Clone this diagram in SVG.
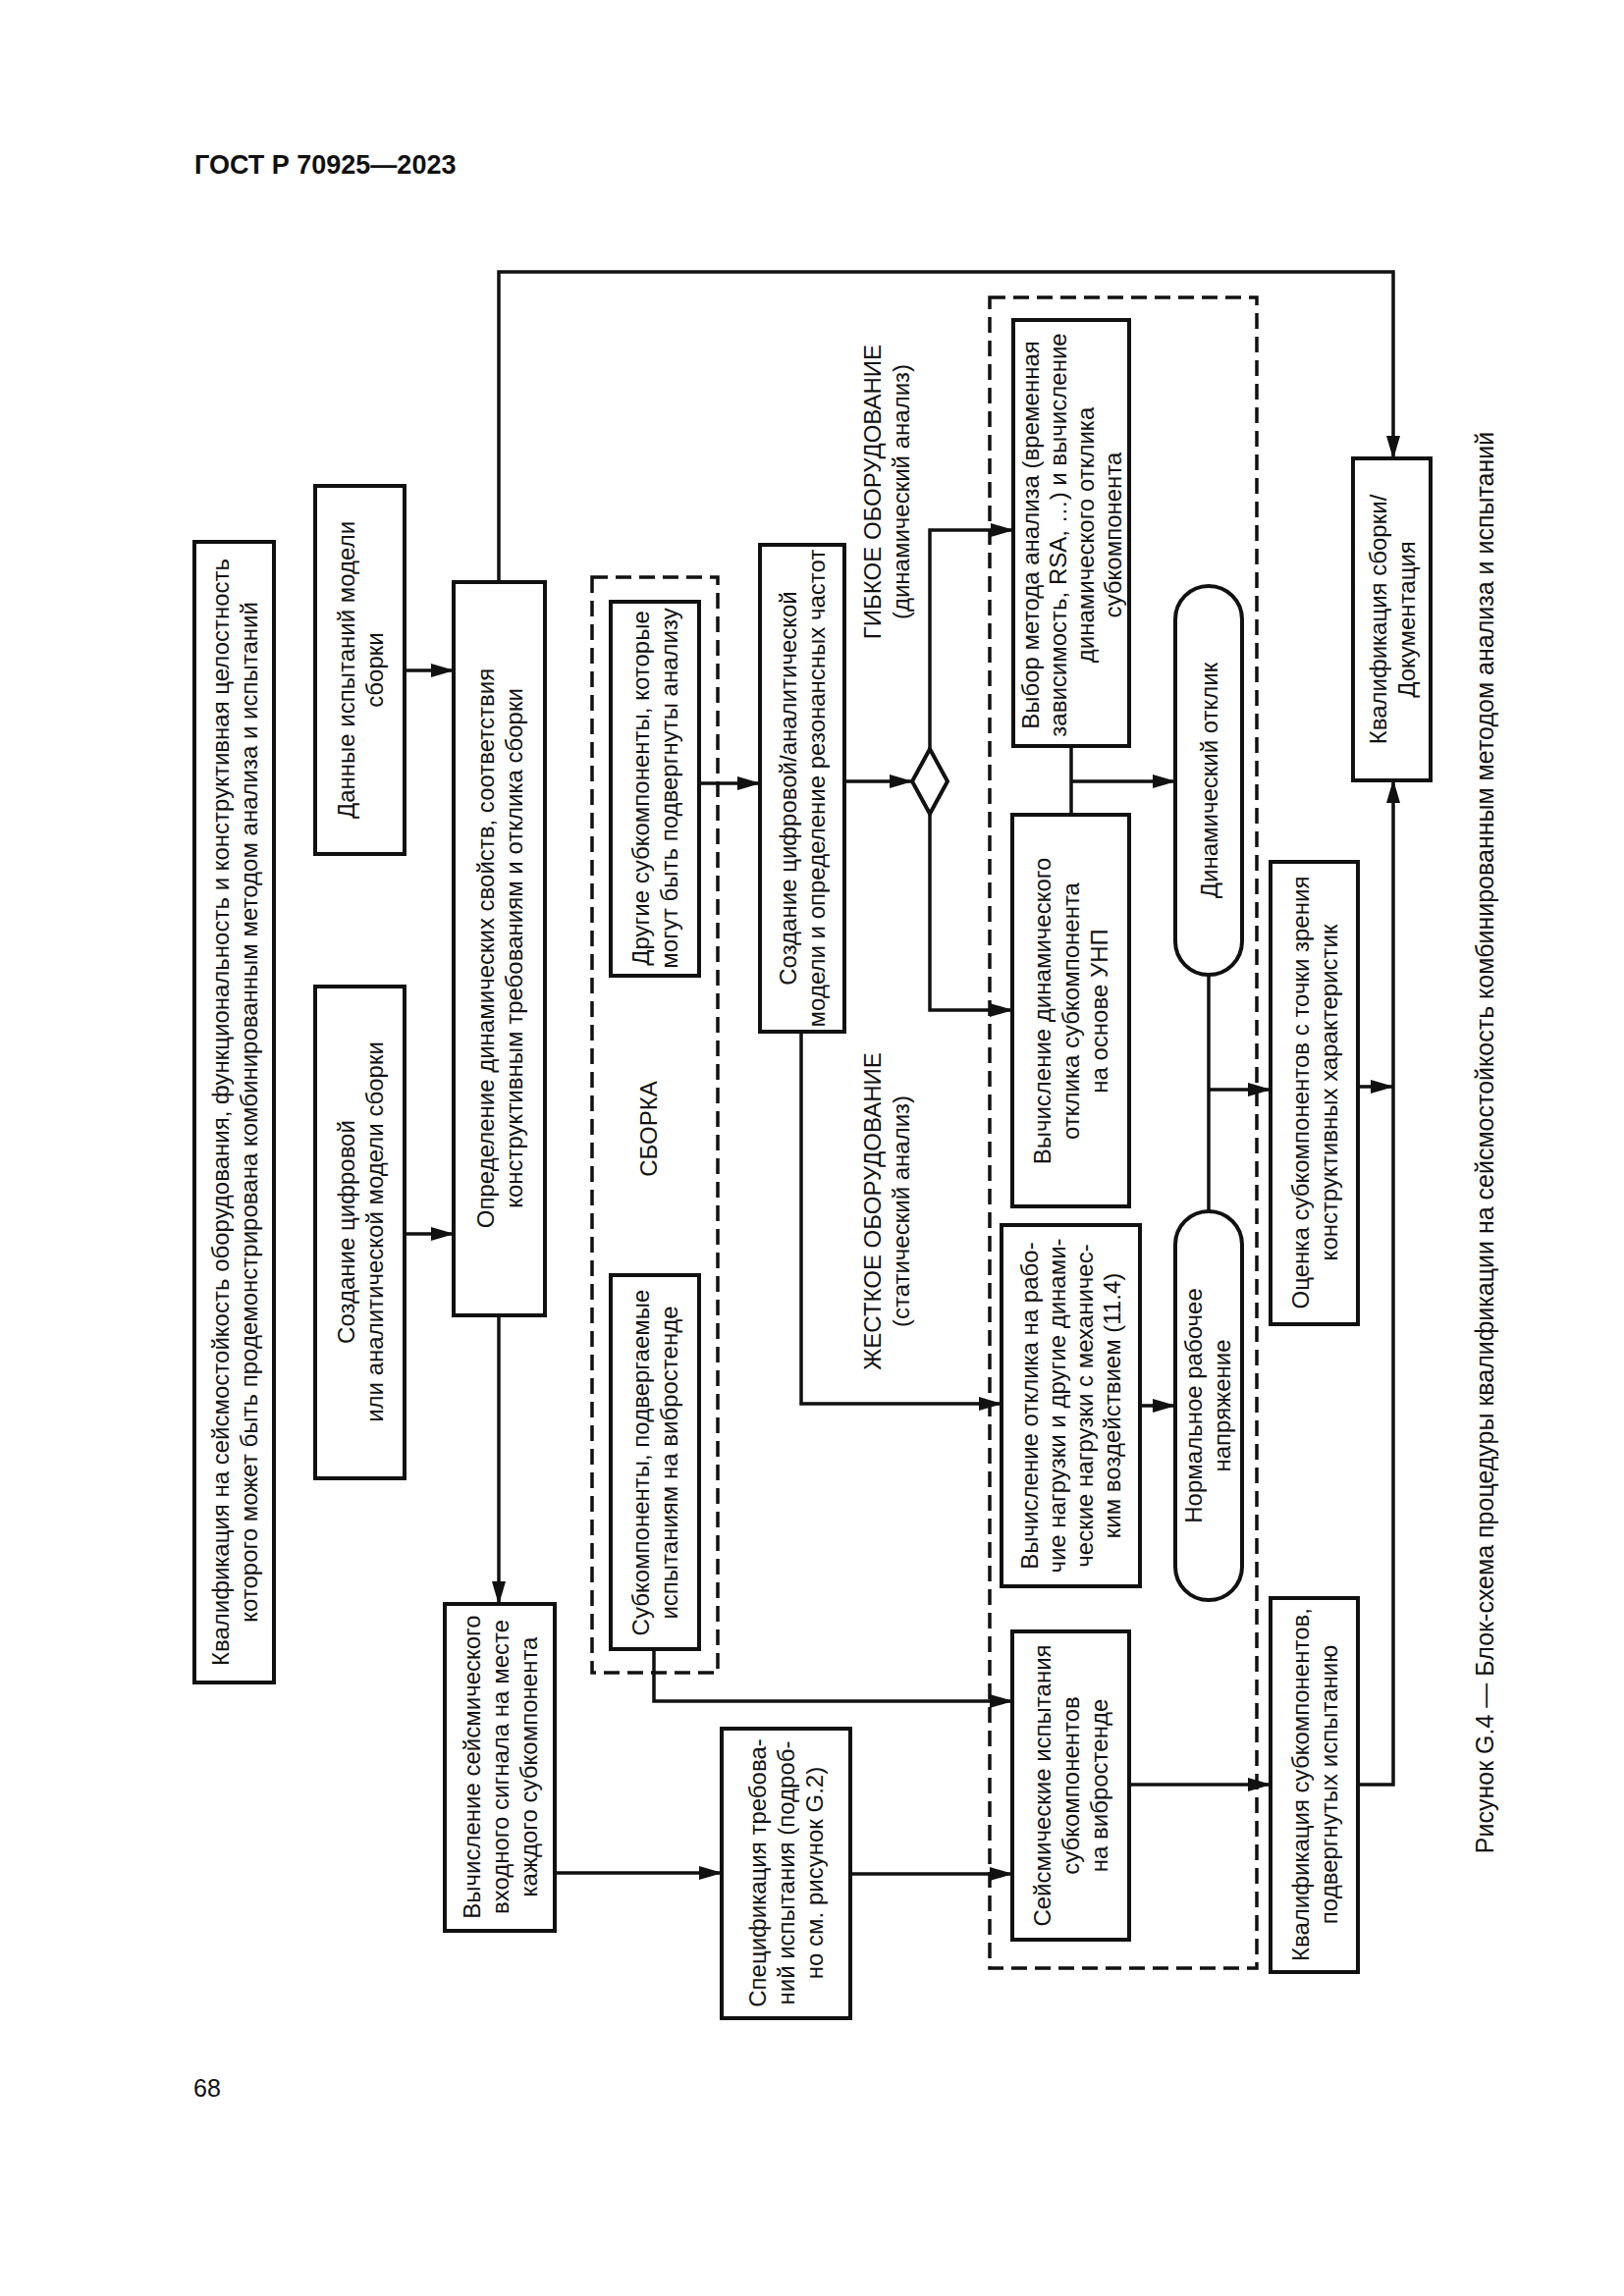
<svg xmlns="http://www.w3.org/2000/svg" width="1654" height="2339" viewBox="0 0 1654 2339">
<defs>
<style>
.bx{fill:#fff;stroke:#111;stroke-width:4}
.ds{fill:none;stroke:#111;stroke-width:3.5;stroke-dasharray:16 8}
.ln{fill:none;stroke:#111;stroke-width:3.5}
.ar{fill:none;stroke:#111;stroke-width:3.5;marker-end:url(#ah)}
.t{font-family:"Liberation Sans",Arial,sans-serif;font-size:24px;fill:#111;text-anchor:middle}
.cap{font-family:"Liberation Sans",Arial,sans-serif;font-size:25px;fill:#111;text-anchor:middle}
</style>
<marker id="ah" markerUnits="userSpaceOnUse" markerWidth="24" markerHeight="14" refX="23" refY="7" orient="auto">
<path d="M0,0 L24,7 L0,14 z" fill="#111"/>
</marker>
</defs>
<rect width="1654" height="2339" fill="#fff"/>
<text x="198" y="177" style="font-family:'Liberation Sans',Arial,sans-serif;font-size:27px;font-weight:bold;fill:#111">ГОСТ Р 70925—2023</text>
<text x="197" y="2136" style="font-family:'Liberation Sans',Arial,sans-serif;font-size:25px;fill:#111">68</text>
<text class="cap" transform="translate(1512 1164) rotate(-90)" x="0" y="9">Рисунок G.4 — Блок-схема процедуры квалификации на сейсмостойкость комбинированным методом анализа и испытаний</text>

<g id="group_sborka">
<rect class="ds" x="603" y="588" width="128" height="1116"/>
<text class="t" transform="translate(660 1150) rotate(-90)" x="0" y="8.5">СБОРКА</text>
</g>
<g id="group_equipment">
<rect class="ds" x="1008" y="303" width="272" height="1702"/>
</g>
<g id="label_gibkoe">
<text class="t" transform="translate(903 501) rotate(-90)"><tspan x="0" y="-6">ГИБКОЕ ОБОРУДОВАНИЕ</tspan><tspan x="0" y="23">(динамический анализ)</tspan></text>
</g>
<g id="label_zhestkoe">
<text class="t" transform="translate(903 1234) rotate(-90)"><tspan x="0" y="-6">ЖЕСТКОЕ ОБОРУДОВАНИЕ</tspan><tspan x="0" y="23">(статический анализ)</tspan></text>
</g>

<g id="connectors">
<path class="ar" d="M412,683 H462"/>
<path class="ar" d="M412,1257 H462"/>
<path class="ar" d="M508,593 V277 H1419 V467"/>
<path class="ar" d="M508,1340 V1634"/>
<path class="ar" d="M712,798 H774"/>
<path class="ar" d="M666,1680 V1733 H1031"/>
<path class="ar" d="M565,1908 H735"/>
<path class="ar" d="M866,1909 H1031"/>
<path class="ar" d="M860,796 H929"/>
<path class="ar" d="M947,763 V540 H1032"/>
<path class="ar" d="M947,829 V1029 H1031"/>
<path class="ar" d="M816,1051 V1430 H1020"/>
<path class="ln" d="M1091,760 V830"/>
<path class="ar" d="M1091,796 H1197"/>
<path class="ar" d="M1161,1432 H1197"/>
<path class="ln" d="M1231,993 V1234"/>
<path class="ar" d="M1231,1110 H1294"/>
<path class="ar" d="M1383,1107 H1419"/>
<path class="ar" d="M1150,1818 H1294"/>
<path class="ar" d="M1383,1818 H1419 V795"/>
</g>

<g id="n_qual_top">
<rect class="bx" x="198" y="552" width="81" height="1162"/>
<text class="t" transform="translate(238.5 1133) rotate(-90)"><tspan x="0" y="-6">Квалификация на сейсмостойкость оборудования, функциональность и конструктивная целостность</tspan><tspan x="0" y="23">которого может быть продемонстрирована комбинированным методом анализа и испытаний</tspan></text>
</g>
<g id="n_dannye">
<rect class="bx" x="321" y="495" width="91" height="375"/>
<text class="t" transform="translate(366.5 682.5) rotate(-90)"><tspan x="0" y="-6">Данные испытаний модели</tspan><tspan x="0" y="23">сборки</tspan></text>
</g>
<g id="n_sozdanie">
<rect class="bx" x="321" y="1005" width="91" height="501"/>
<text class="t" transform="translate(366.5 1255) rotate(-90)"><tspan x="0" y="-6">Создание цифровой</tspan><tspan x="0" y="23">или аналитической модели сборки</tspan></text>
</g>
<g id="n_opredelenie">
<rect class="bx" x="462" y="593" width="93" height="747"/>
<text class="t" transform="translate(508.5 966) rotate(-90)"><tspan x="0" y="-6">Определение динамических свойств, соответствия</tspan><tspan x="0" y="23">конструктивным требованиям и отклика сборки</tspan></text>
</g>
<g id="n_drugie">
<rect class="bx" x="622" y="613" width="90" height="381"/>
<text class="t" transform="translate(667 803) rotate(-90)"><tspan x="0" y="-6">Другие субкомпоненты, которые</tspan><tspan x="0" y="23">могут быть подвергнуты анализу</tspan></text>
</g>
<g id="n_subkomp">
<rect class="bx" x="622" y="1299" width="90" height="381"/>
<text class="t" transform="translate(667 1490) rotate(-90)"><tspan x="0" y="-6">Субкомпоненты, подвергаемые</tspan><tspan x="0" y="23">испытаниям на вибростенде</tspan></text>
</g>
<g id="n_vych_seism">
<rect class="bx" x="453" y="1634" width="112" height="333"/>
<text class="t" transform="translate(509 1800) rotate(-90)"><tspan x="0" y="-20.5">Вычисление сейсмического</tspan><tspan x="0" y="8.5">входного сигнала на месте</tspan><tspan x="0" y="37.5">каждого субкомпонента</tspan></text>
</g>
<g id="n_spec">
<rect class="bx" x="735" y="1761" width="131" height="295"/>
<text class="t" transform="translate(800.5 1908) rotate(-90)"><tspan x="0" y="-20.5">Спецификация требова-</tspan><tspan x="0" y="8.5">ний испытания (подроб-</tspan><tspan x="0" y="37.5">но см. рисунок G.2)</tspan></text>
</g>
<g id="n_sozd_model">
<rect class="bx" x="774" y="555" width="86" height="496"/>
<text class="t" transform="translate(817 803) rotate(-90)"><tspan x="0" y="-6">Создание цифровой/аналитической</tspan><tspan x="0" y="23">модели и определение резонансных частот</tspan></text>
</g>
<g id="n_decision">
<polygon class="bx" points="947,763 965,796 947,829 929,796"/>
</g>
<g id="n_vybor">
<rect class="bx" x="1032" y="326" width="118" height="434"/>
<text class="t" transform="translate(1091 545) rotate(-90)"><tspan x="0" y="-33.5">Выбор метода анализа (временная</tspan><tspan x="0" y="-5.5">зависимость, RSA, …) и вычисление</tspan><tspan x="0" y="22.5">динамического отклика</tspan><tspan x="0" y="50.5">субкомпонента</tspan></text>
</g>
<g id="n_vych_din">
<rect class="bx" x="1031" y="830" width="119" height="399"/>
<text class="t" transform="translate(1090 1030) rotate(-90)"><tspan x="0" y="-20.5">Вычисление динамического</tspan><tspan x="0" y="8.5">отклика субкомпонента</tspan><tspan x="0" y="37.5">на основе УНП</tspan></text>
</g>
<g id="n_vych_otkl">
<rect class="bx" x="1020" y="1248" width="141" height="368"/>
<text class="t" transform="translate(1090 1432) rotate(-90)"><tspan x="0" y="-33.5">Вычисление отклика на рабо-</tspan><tspan x="0" y="-5.5">чие нагрузки и другие динами-</tspan><tspan x="0" y="22.5">ческие нагрузки с механичес-</tspan><tspan x="0" y="50.5">ким воздействием (11.4)</tspan></text>
</g>
<g id="n_seism_isp">
<rect class="bx" x="1031" y="1662" width="119" height="314"/>
<text class="t" transform="translate(1090 1819) rotate(-90)"><tspan x="0" y="-20.5">Сейсмические испытания</tspan><tspan x="0" y="8.5">субкомпонентов</tspan><tspan x="0" y="37.5">на вибростенде</tspan></text>
</g>
<g id="n_din_otklik">
<rect class="bx" x="1197" y="597" width="68" height="396" rx="34" ry="34"/>
<text class="t" transform="translate(1231 795) rotate(-90)" x="0" y="8.5">Динамический отклик</text>
</g>
<g id="n_normal">
<rect class="bx" x="1197" y="1234" width="68" height="396" rx="34" ry="34"/>
<text class="t" transform="translate(1230 1432) rotate(-90)"><tspan x="0" y="-6">Нормальное рабочее</tspan><tspan x="0" y="23">напряжение</tspan></text>
</g>
<g id="n_ocenka">
<rect class="bx" x="1294" y="878" width="89" height="471"/>
<text class="t" transform="translate(1338.5 1113) rotate(-90)"><tspan x="0" y="-6">Оценка субкомпонентов с точки зрения</tspan><tspan x="0" y="23">конструктивных характеристик</tspan></text>
</g>
<g id="n_qual_sub">
<rect class="bx" x="1294" y="1628" width="89" height="381"/>
<text class="t" transform="translate(1338.5 1818) rotate(-90)"><tspan x="0" y="-6">Квалификация субкомпонентов,</tspan><tspan x="0" y="23">подвергнутых испытанию</tspan></text>
</g>
<g id="n_qual_sb">
<rect class="bx" x="1378" y="467" width="79" height="328"/>
<text class="t" transform="translate(1417.5 631) rotate(-90)"><tspan x="0" y="-6">Квалификация сборки/</tspan><tspan x="0" y="23">Документация</tspan></text>
</g>
</svg>
